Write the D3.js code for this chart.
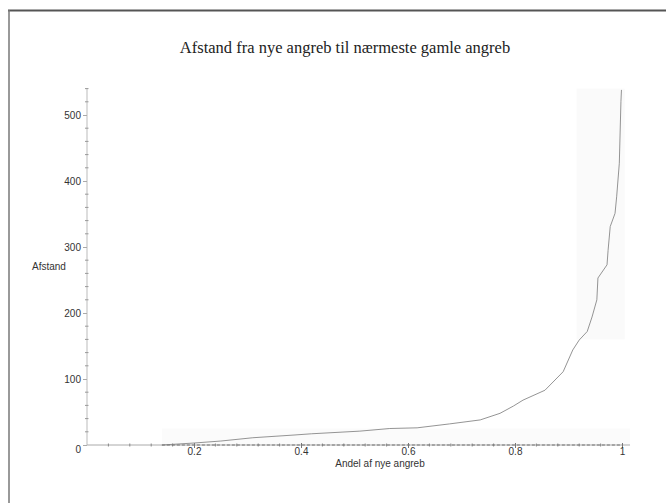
<!DOCTYPE html>
<html><head><meta charset="utf-8">
<script src="https://cdn.jsdelivr.net/npm/d3@7/dist/d3.min.js"></script>
<style>body{margin:0;background:#fff}svg{display:block}</style>
</head><body>
<svg id="c" width="666" height="503"></svg>
<script>
const title = "Afstand fra nye angreb til nærmeste gamle angreb";
const xLabel = "Andel af nye angreb";
const yLabel = "Afstand";
const xTicks = [0.2, 0.4, 0.6, 0.8, 1];
const xTickLabels = ["0.2", "0.4", "0.6", "0.8", "1"];
const yTicks = [0, 100, 200, 300, 400, 500];
const share = [0.14, 0.2, 0.25, 0.31, 0.385, 0.42, 0.51, 0.566, 0.617, 0.678, 0.735, 0.772, 0.797, 0.815, 0.856, 0.89, 0.908, 0.92, 0.935, 0.944, 0.953, 0.955, 0.972, 0.974, 0.978, 0.987, 0.99, 0.995, 0.998, 0.999];
const distance = [0, 3, 6, 11, 15, 17, 21, 25, 26, 32, 38, 48, 59, 68, 83, 111, 144, 159, 172, 194, 220, 253, 273, 295, 331, 351, 376, 427, 520, 538];

const svg = d3.select("#c");
const x = d3.scaleLinear().domain([0, 1]).range([87, 622]);
const y = d3.scaleLinear().domain([0, 540]).range([445, 88.6]);

// scan frame
svg.append("line").attr("x1", 8).attr("x2", 666).attr("y1", 10.5).attr("y2", 10.5).attr("stroke", "#555").attr("stroke-width", 2);
svg.append("line").attr("x1", 9).attr("x2", 9).attr("y1", 10).attr("y2", 503).attr("stroke", "#777").attr("stroke-width", 1.5);

// faint scan shading
svg.append("rect").attr("x", x(0.915)).attr("y", y(540)).attr("width", x(1.005) - x(0.915)).attr("height", y(160) - y(540)).attr("fill", "#fafafa");
svg.append("rect").attr("x", x(0.14)).attr("y", y(25)).attr("width", x(1.015) - x(0.14)).attr("height", y(0) - y(25)).attr("fill", "#fbfbfb");

svg.append("text").attr("x", 345).attr("y", 53).attr("text-anchor", "middle")
  .attr("font-family", "Liberation Serif, Times New Roman, serif").attr("font-size", 16.5).attr("fill", "#222").text(title);

// y axis
const yAxis = d3.axisLeft(y).tickValues(yTicks).tickSize(4).tickPadding(2).tickFormat(d3.format("d"));
const gy = svg.append("g").attr("transform", "translate(87,0)").call(yAxis);
gy.select(".domain").attr("stroke", "#bbb").attr("d", `M0,${y(540)}V${y(0)}`);
gy.selectAll(".tick line").attr("stroke", "#aaa");
gy.selectAll(".tick text").attr("font-family", "Liberation Sans, Arial, sans-serif").attr("font-size", 10).attr("fill", "#333");
gy.selectAll(".tick").filter(d => d === 0).select("text").attr("dy", "0.75em");
const yMinor = d3.range(0, 541, 20).filter(v => v % 100 !== 0);
gy.selectAll(".minor").data(yMinor).join("line").attr("class", "minor")
  .attr("x1", -2).attr("x2", 1.5).attr("y1", d => y(d)).attr("y2", d => y(d)).attr("stroke", "#999");

// x axis
const xAxis = d3.axisBottom(x).tickValues(xTicks).tickSize(3).tickPadding(0).tickFormat((d, i) => xTickLabels[i]);
const gx = svg.append("g").attr("transform", `translate(0,${y(0)})`).call(xAxis);
gx.select(".domain").attr("stroke", "#aaa").attr("d", `M${x(0)},0H${x(1.015)}`);
gx.selectAll(".tick line").attr("stroke", "#777").attr("y1", -2);
gx.selectAll(".tick text").attr("font-family", "Liberation Sans, Arial, sans-serif").attr("font-size", 10).attr("fill", "#333");
const xMinor = d3.range(0.04, 1.0, 0.04).filter(v => Math.abs(v * 5 - Math.round(v * 5)) > 1e-6);
gx.selectAll(".minor").data(xMinor).join("line").attr("class", "minor")
  .attr("x1", d => x(d)).attr("x2", d => x(d)).attr("y1", -1.5).attr("y2", 1.5).attr("stroke", "#888");

svg.append("text").attr("x", 380).attr("y", 467).attr("text-anchor", "middle")
  .attr("font-family", "Liberation Sans, Arial, sans-serif").attr("font-size", 10).attr("fill", "#333").text(xLabel);
svg.append("text").attr("x", 32).attr("y", 270)
  .attr("font-family", "Liberation Sans, Arial, sans-serif").attr("font-size", 10).attr("fill", "#333").text(yLabel);

// curve
const pts = share.map((s, i) => [s, distance[i]]);
svg.append("path").datum(pts)
  .attr("d", d3.line().x(d => x(d[0])).y(d => y(d[1])))
  .attr("fill", "none").attr("stroke", "#888").attr("stroke-width", 0.9);
svg.append("line").attr("x1", x(0.14)).attr("x2", x(1)).attr("y1", y(0)).attr("y2", y(0)).attr("stroke", "#777").attr("stroke-width", 1).attr("stroke-dasharray", "3,2");
</script>
</body></html>
